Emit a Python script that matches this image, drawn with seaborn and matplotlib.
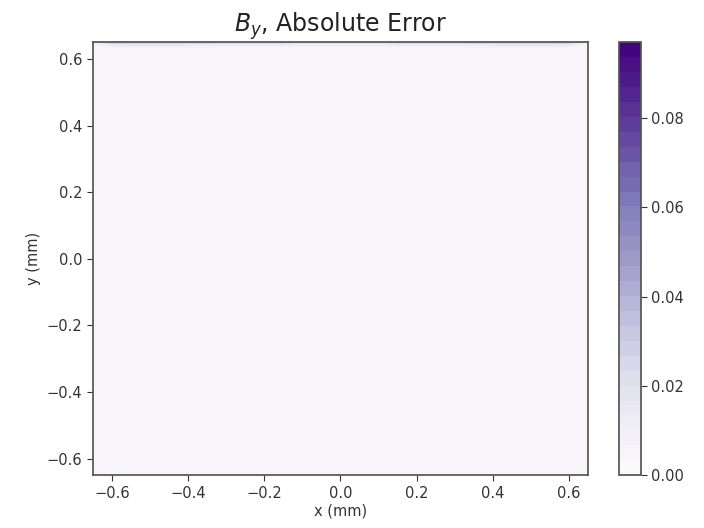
import numpy as np
import matplotlib
matplotlib.use("Agg")
import matplotlib.pyplot as plt
import seaborn as sns

# grid coordinates (mm) - denser near the top edge where the error sits
x_mm = [-0.65, -0.6, -0.4, -0.2, 0.0, 0.2, 0.4, 0.6, 0.65]
y_mm = [-0.65, -0.64, -0.4, -0.2, 0.0, 0.2, 0.4, 0.6, 0.635, 0.645, 0.65]

# absolute error of B_y, rows go bottom -> top
err_bottom   = [0.006, 0.006, 0.005, 0.005, 0.005, 0.005, 0.005, 0.006, 0.006]
err_m064     = [0.005, 0.005, 0.005, 0.004, 0.004, 0.004, 0.005, 0.005, 0.005]
err_m04      = [0.005, 0.005, 0.004, 0.004, 0.004, 0.004, 0.004, 0.005, 0.005]
err_m02      = [0.005, 0.005, 0.004, 0.004, 0.004, 0.004, 0.004, 0.005, 0.005]
err_0        = [0.005, 0.005, 0.004, 0.004, 0.004, 0.004, 0.004, 0.005, 0.005]
err_02       = [0.005, 0.005, 0.004, 0.004, 0.004, 0.004, 0.004, 0.005, 0.005]
err_04       = [0.005, 0.005, 0.004, 0.004, 0.004, 0.004, 0.004, 0.005, 0.005]
err_06       = [0.005, 0.005, 0.005, 0.004, 0.004, 0.004, 0.005, 0.005, 0.005]
err_0635     = [0.005, 0.006, 0.006, 0.006, 0.006, 0.006, 0.006, 0.006, 0.005]
err_0645     = [0.006, 0.018, 0.017, 0.014, 0.013, 0.014, 0.017, 0.018, 0.006]
err_top      = [0.008, 0.034, 0.032, 0.026, 0.024, 0.026, 0.032, 0.034, 0.008]

err_max = 0.097
n_levels = 30

Z = np.array([err_bottom, err_m064, err_m04, err_m02, err_0, err_02,
              err_04, err_06, err_0635, err_0645, err_top])

sns.set_theme(style="ticks")
plt.rcParams["font.family"] = ["DejaVu Sans"]

fig = plt.figure(figsize=(7.04, 5.28), dpi=100)
ax = fig.add_axes([0.132, 0.100, 0.703, 0.820])
cax = fig.add_axes([0.879, 0.100, 0.031, 0.820])

cmap = sns.color_palette("Purples", as_cmap=True)
levels = np.linspace(0, err_max, n_levels)
cs = ax.contourf(x_mm, y_mm, Z, levels=levels, cmap=cmap)

ax.set_xlim(-0.65, 0.65)
ax.set_ylim(-0.65, 0.65)
ax.set_xticks([-0.6, -0.4, -0.2, 0.0, 0.2, 0.4, 0.6])
ax.set_yticks([-0.6, -0.4, -0.2, 0.0, 0.2, 0.4, 0.6])
ax.tick_params(labelsize=10.5, length=4, width=0.8, colors="#333333")
ax.set_xlabel("x (mm)", fontsize=10.5, labelpad=2, color="#333333")
ax.set_ylabel("y (mm)", fontsize=10.5, color="#333333")
ax.set_title("$B_y$, Absolute Error", fontsize=17, pad=5, color="#222222")
for s in ax.spines.values():
    s.set_color("#555555")

cb = fig.colorbar(cs, cax=cax, ticks=[0.0, 0.02, 0.04, 0.06, 0.08])
cb.ax.tick_params(labelsize=10.5, length=4, width=0.8, colors="#333333")
cb.outline.set_edgecolor("#555555")

fig.savefig("out.png", dpi=100)
